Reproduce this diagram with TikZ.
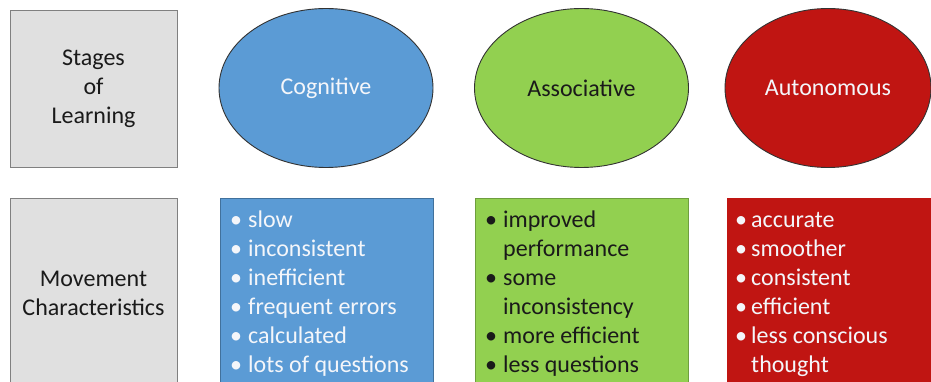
\documentclass[tikz,border=0pt]{standalone}
\usepackage{fontspec}
\setmainfont{Carlito}
\usetikzlibrary{shapes.geometric}
\definecolor{grayfill}{HTML}{E0E0E0}
\definecolor{grayedge}{HTML}{808080}
\definecolor{cogblue}{HTML}{5B9BD5}
\definecolor{cogedge}{HTML}{41719C}
\definecolor{assgreen}{HTML}{92D050}
\definecolor{assedge}{HTML}{6E9E3E}
\definecolor{autred}{HTML}{C01512}
\definecolor{lighttext}{HTML}{F4F6FA}
\definecolor{darktext}{HTML}{1A1A1A}
\begin{document}
\begin{tikzpicture}[x=1pt,y=-1pt,
  txt/.style={font=\fontsize{24}{29}\selectfont, align=center},
  graycell/.style={draw=grayedge, line width=0.8pt, fill=grayfill, inner sep=0pt, txt, text=darktext},
  stage/.style={ellipse, draw=black!80, line width=0.9pt, inner sep=0pt, minimum width=214pt, minimum height=159pt, txt},
  listbox/.style={inner sep=0pt, minimum width=213pt, minimum height=200pt},
  item/.style={anchor=base west, inner sep=0pt, font=\fontsize{24}{29}\selectfont}
]
\useasboundingbox (0,0) rectangle (931,382);
\clip (0,0) rectangle (931,382);
\fill[white] (0,0) rectangle (931,382);

% header row
\node[graycell, minimum width=167pt, minimum height=157pt] (stages) at (93.5,88.5) {Stages\\of\\Learning};
\node[stage, fill=cogblue, text=lighttext] (cog) at (326,88) {Cognitive};
\node[stage, fill=assgreen, text=darktext] (ass) at (581.5,88) {Associative};
\node[stage, fill=autred, text=lighttext, minimum width=206pt] (aut) at (828,88) {Autonomous};

% second row
\node[graycell, minimum width=167pt, minimum height=190pt] (move) at (93.5,293) {Movement\\Characteristics};
\node[listbox, fill=cogblue, draw=cogedge, line width=0.8pt] (cogbox) at (326.5,298) {};
\node[listbox, fill=assgreen, draw=assedge, line width=0.8pt] (assbox) at (581.5,298) {};
\node[listbox, fill=autred, minimum width=220pt] (autbox) at (837,298) {};

% cognitive list
\begin{scope}[every node/.style={item, text=lighttext}]
\node (c1b) at (230,227) {\textbullet}; \node (c1) at (248,227) {slow};
\node (c2b) at (230,256) {\textbullet}; \node (c2) at (248,256) {inconsistent};
\node (c3b) at (230,285) {\textbullet}; \node (c3) at (248,285) {inefficient};
\node (c4b) at (230,314) {\textbullet}; \node (c4) at (248,314) {frequent errors};
\node (c5b) at (230,343) {\textbullet}; \node (c5) at (248,343) {calculated};
\node (c6b) at (230,372) {\textbullet}; \node (c6) at (248,372) {lots of questions};
\end{scope}

% associative list
\begin{scope}[every node/.style={item, text=darktext}]
\node (a1b) at (485,227) {\textbullet}; \node (a1) at (503,227) {improved};
\node (a2) at (503,256) {performance};
\node (a3b) at (485,285) {\textbullet}; \node (a3) at (503,285) {some};
\node (a4) at (503,314) {inconsistency};
\node (a5b) at (485,343) {\textbullet}; \node (a5) at (503,343) {more efficient};
\node (a6b) at (485,372) {\textbullet}; \node (a6) at (503,372) {less questions};
\end{scope}

% autonomous list
\begin{scope}[every node/.style={item, text=lighttext}]
\node (u1b) at (735,227) {\textbullet}; \node (u1) at (751,227) {accurate};
\node (u2b) at (735,256) {\textbullet}; \node (u2) at (751,256) {smoother};
\node (u3b) at (735,285) {\textbullet}; \node (u3) at (751,285) {consistent};
\node (u4b) at (735,314) {\textbullet}; \node (u4) at (751,314) {efficient};
\node (u5b) at (735,343) {\textbullet}; \node (u5) at (751,343) {less conscious};
\node (u6) at (751,372) {thought};
\end{scope}
\end{tikzpicture}
\end{document}
